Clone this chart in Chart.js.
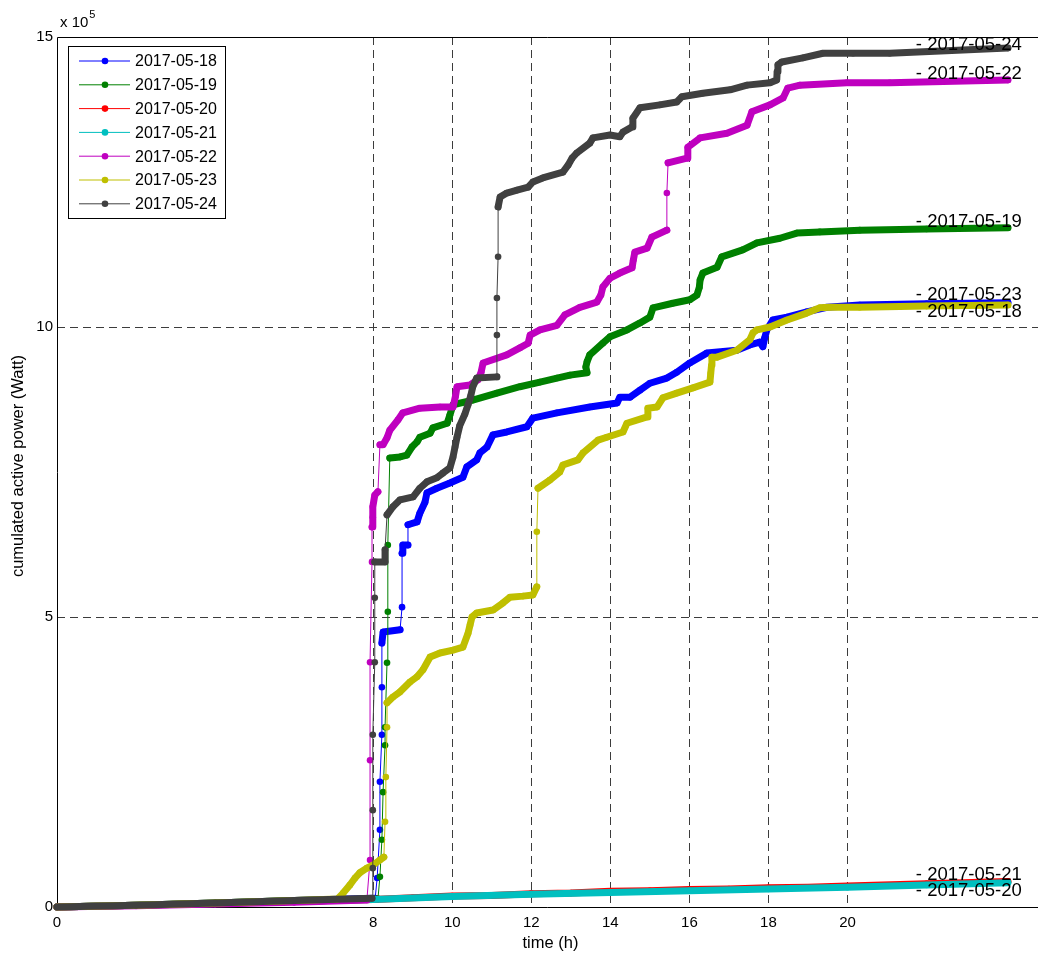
<!DOCTYPE html>
<html>
<head>
<meta charset="utf-8">
<title>cumulated active power</title>
<script src="https://cdn.jsdelivr.net/npm/chart.js@4.4.1/dist/chart.umd.min.js"></script>
<style>
  html, body { margin: 0; padding: 0; background: #fff; }
  canvas { display: block; }
</style>
</head>
<body>
<canvas id="chart" width="1038" height="953"></canvas>
<script>
// one trace per day, legend order
const days = ['2017-05-18', '2017-05-19', '2017-05-20', '2017-05-21', '2017-05-22', '2017-05-23', '2017-05-24'];
const colors = ['#0000ff', '#008000', '#ff0000', '#00bfbf', '#bf00bf', '#bfbf00', '#404040'];

// [time (h), cumulated active power (x 10^5 W)]
const s18 = [[0,0],[2,0.03],[4,0.07],[6,0.11],[8.05,0.15],
  [8.10,0.50],[8.17,1.33],[8.17,2.16],[8.22,2.97],[8.22,3.79],[8.22,4.55],[8.25,4.74],[8.68,4.78],
  [8.73,5.17],[8.73,6.10],[8.75,6.24],[8.88,6.24],[8.88,6.59],
  [9.11,6.64],[9.18,6.79],[9.31,6.98],[9.36,7.14],[9.61,7.22],[9.94,7.31],[10.27,7.41],[10.37,7.59],
  [10.62,7.71],[10.70,7.83],[10.88,7.93],[11.03,8.14],[11.38,8.19],[11.89,8.28],[12.04,8.43],[12.65,8.52],
  [13.48,8.62],[14.17,8.69],[14.24,8.79],[14.50,8.79],[14.75,8.91],[15.00,9.03],[15.43,9.12],[15.68,9.22],
  [16.01,9.38],[16.44,9.55],[17.20,9.60],[17.53,9.69],[17.78,9.74],[17.86,9.66],[17.90,9.80],[17.96,9.95],
  [18.11,10.12],[18.47,10.17],[18.97,10.26],[19.48,10.34],[20.31,10.38],[22,10.40],[24.06,10.42]];

const s19 = [[0,0],[2,0.03],[4,0.07],[6,0.11],[8.12,0.14],
  [8.17,0.52],[8.22,1.16],[8.25,1.98],[8.30,2.79],[8.30,3.10],[8.35,4.21],[8.37,5.09],[8.37,6.24],[8.42,7.74],
  [8.68,7.76],[8.85,7.79],[8.98,7.93],[9.11,8.02],[9.18,8.10],[9.44,8.17],[9.51,8.26],[9.87,8.34],[9.94,8.48],
  [10.02,8.66],[10.52,8.74],[11.13,8.86],[11.71,8.97],[12.22,9.05],[12.65,9.12],[12.98,9.17],[13.41,9.21],
  [13.38,9.31],[13.41,9.40],[13.48,9.52],[13.81,9.72],[13.99,9.83],[14.42,9.95],[14.75,10.07],[15.00,10.17],
  [15.08,10.33],[15.58,10.41],[16.01,10.47],[16.19,10.55],[16.25,10.68],[16.27,10.81],[16.34,10.93],
  [16.70,11.03],[16.82,11.21],[17.35,11.33],[17.71,11.45],[18.29,11.53],[18.72,11.62],[19.30,11.64],
  [20.31,11.67],[22,11.69],[24.06,11.71]];

const s20 = [[0,0],[2,0.03],[4,0.06],[6,0.10],[8,0.13],[9,0.16],[10,0.19],[11,0.20],[12,0.23],[13,0.24],
  [14,0.27],[15,0.28],[16,0.30],[17,0.31],[18,0.33],[19,0.34],[20,0.36],[22,0.40],[24.06,0.44]];

const s21 = [[0,0],[2,0.03],[4,0.06],[6,0.10],[8,0.13],[10,0.18],[12,0.22],[14,0.25],[16,0.28],
  [18,0.31],[20,0.34],[22,0.38],[24.06,0.42]];

const s22 = [[0,0],[2,0.02],[4,0.05],[6,0.08],[7.84,0.12],
  [7.92,0.81],[7.92,2.53],[7.92,4.22],[7.97,5.95],[7.97,6.55],[7.99,6.72],[7.99,6.90],[8.04,7.10],[8.12,7.16],
  [8.17,7.97],[8.25,7.97],
  [8.35,8.09],[8.42,8.22],[8.63,8.40],[8.75,8.52],[9.18,8.60],[9.69,8.62],[10.02,8.62],[10.08,8.80],[10.12,8.97],
  [10.45,9.00],[10.65,9.09],[10.73,9.22],[10.78,9.38],[11.38,9.52],[11.71,9.64],[11.92,9.72],[11.97,9.86],
  [12.22,9.95],[12.65,10.03],[12.85,10.21],[13.23,10.34],[13.66,10.43],[13.76,10.55],[13.81,10.69],[13.99,10.84],
  [14.24,10.93],[14.55,11.02],[14.58,11.15],[14.62,11.29],[14.93,11.36],[15.05,11.55],[15.43,11.67],
  [15.43,12.31],[15.46,12.83],
  [15.94,12.91],[15.96,13.10],[16.27,13.26],[16.95,13.34],[17.46,13.48],[17.58,13.71],[18.04,13.83],
  [18.37,13.95],[18.49,14.12],[18.80,14.17],[19.98,14.21],[21.07,14.21],[24.06,14.26]];

const s23 = [[0,0],[2,0.03],[4,0.07],[6,0.11],[7.1,0.14],[7.24,0.24],[7.41,0.38],[7.54,0.50],[7.66,0.59],
  [7.84,0.67],[7.99,0.72],[8.17,0.81],[8.27,0.86],
  [8.30,1.47],[8.32,2.24],[8.35,3.10],[8.35,3.52],[8.50,3.62],[8.68,3.71],[8.93,3.88],[9.11,3.97],[9.26,4.09],
  [9.44,4.31],[9.69,4.38],[10.02,4.43],[10.27,4.48],[10.40,4.72],[10.45,4.86],[10.50,5.00],[10.62,5.07],
  [11.03,5.12],[11.28,5.24],[11.46,5.34],[11.79,5.36],[12.04,5.38],
  [12.14,5.52],[12.14,6.47],[12.17,7.22],
  [12.47,7.36],[12.72,7.50],[12.80,7.62],[13.18,7.71],[13.31,7.83],[13.69,8.05],[13.91,8.10],[14.32,8.19],
  [14.42,8.34],[14.93,8.45],[14.95,8.60],[15.18,8.62],[15.33,8.78],[15.68,8.86],[16.09,8.95],[16.52,9.05],
  [16.54,9.20],[16.56,9.34],[16.57,9.48],[16.70,9.48],[17.20,9.60],[17.53,9.78],[17.61,9.90],[17.71,9.95],
  [18.04,10.00],[18.47,10.12],[18.97,10.24],[19.30,10.33],[19.55,10.34],[20.31,10.34],[22,10.36],[24.06,10.38]];

const s24 = [[0,0],[2,0.03],[4,0.07],[6,0.11],[7.97,0.15],
  [7.99,0.67],[7.99,1.67],[7.99,2.97],[8.04,4.22],[8.04,5.33],[8.04,5.95],[8.30,5.95],[8.30,6.16],[8.35,6.76],
  [8.50,6.90],[8.68,7.02],[9.01,7.07],[9.18,7.22],[9.36,7.33],[9.61,7.40],[9.76,7.48],[9.94,7.57],[10.02,7.76],
  [10.07,7.93],[10.12,8.10],[10.19,8.30],[10.32,8.50],[10.40,8.66],[10.47,8.82],[10.52,8.97],[10.62,9.12],
  [11.13,9.14],
  [11.13,9.86],[11.13,10.50],[11.16,11.21],[11.16,12.07],[11.21,12.24],
  [11.38,12.31],[11.64,12.36],[11.92,12.41],[12.04,12.50],[12.29,12.57],[12.80,12.67],[12.93,12.79],[13.03,12.91],
  [13.15,13.00],[13.48,13.17],[13.56,13.26],[13.99,13.31],[14.24,13.28],[14.32,13.36],[14.55,13.45],[14.57,13.60],
  [14.75,13.78],[15.25,13.83],[15.68,13.88],[15.81,13.97],[16.34,14.03],[17.03,14.09],[17.46,14.17],[18.04,14.21],
  [18.21,14.26],[18.22,14.40],[18.24,14.52],[18.34,14.57],[18.87,14.64],[19.38,14.72],[20.14,14.72],[21.07,14.72],
  [24.06,14.81]];

const series = [s18, s19, s20, s21, s22, s23, s24];

const xTicks = [0, 8, 10, 12, 14, 16, 18, 20];
const yTicks = [0, 5, 10, 15];

// anchor of the "- yyyy-mm-dd" tags at the right (h, x 10^5 W)
const tagX = 21.73;
const tagY = [10.26, 11.81, 0.28, 0.55, 14.36, 10.55, 14.86];

const FONT = '"Liberation Sans", Arial, Helvetica, sans-serif';

// long near-vertical steps are sparse samples: thin line, dense runs look like a thick band
function segWidth(c) {
    const dy = Math.abs(c.p1.y - c.p0.y);
    const dx = Math.abs(c.p1.x - c.p0.x);
    return (dy > 16 && dx < 6) ? 1 : 7;
}

const datasets = series.map((s, i) => ({
    label: days[i],
    data: s.map(p => ({x: p[0], y: p[1]})),
    borderColor: colors[i],
    backgroundColor: colors[i],
    pointBackgroundColor: colors[i],
    pointBorderWidth: 0,
    pointRadius: 3.3,
    borderWidth: 7,
    borderCapStyle: 'round',
    borderJoinStyle: 'round',
    tension: 0,
    clip: false,
    order: series.length - 1 - i,   // later days on top
    segment: { borderWidth: segWidth }
}));

const frame = {
    id: 'frame',
    beforeDatasetsDraw(chart) {
        const {ctx, chartArea: a, scales: {x, y}} = chart;
        ctx.save();
        ctx.lineWidth = 1;
        ctx.strokeStyle = '#3c3c3c';
        ctx.setLineDash([8, 5]);
        xTicks.filter(v => v > 0).forEach(v => {
            const px = Math.round(x.getPixelForValue(v)) + 0.5;
            ctx.beginPath();
            ctx.moveTo(px, a.top);
            ctx.lineTo(px, a.bottom);
            ctx.stroke();
        });
        yTicks.filter(v => v > 0 && v < 15).forEach(v => {
            const py = Math.round(y.getPixelForValue(v)) + 0.5;
            ctx.beginPath();
            ctx.moveTo(a.left, py);
            ctx.lineTo(a.right, py);
            ctx.stroke();
        });
        // axes box (right side falls outside the canvas)
        ctx.setLineDash([]);
        ctx.strokeStyle = '#000';
        ctx.beginPath();
        ctx.moveTo(a.right, a.top + 0.5);
        ctx.lineTo(a.left + 0.5, a.top + 0.5);
        ctx.lineTo(a.left + 0.5, a.bottom + 0.5);
        ctx.lineTo(a.right, a.bottom + 0.5);
        ctx.stroke();
        ctx.restore();
    },
    afterDraw(chart) {
        const {ctx, chartArea: a, scales: {x, y}} = chart;
        ctx.save();
        ctx.fillStyle = '#000';

        // axis titles
        ctx.font = '16.5px ' + FONT;
        ctx.textAlign = 'center';
        ctx.textBaseline = 'middle';
        ctx.fillText('time (h)', (a.left + a.right) / 2 + 3, 943);
        ctx.save();
        ctx.translate(18, (a.top + a.bottom) / 2 - 6);
        ctx.rotate(-Math.PI / 2);
        ctx.fillText('cumulated active power (Watt)', 0, 0);
        ctx.restore();

        // exponent above the y axis
        ctx.textAlign = 'left';
        ctx.font = '15px ' + FONT;
        ctx.fillText('x 10', 60, 23);
        const w = ctx.measureText('x 10').width;
        ctx.font = '11px ' + FONT;
        ctx.fillText('5', 60 + w + 1, 15);

        // day tags next to the line ends
        ctx.font = '18.5px ' + FONT;
        days.forEach((d, i) => {
            ctx.fillText('- ' + d, x.getPixelForValue(tagX), y.getPixelForValue(tagY[i]));
        });

        // legend box
        const bx = 68.5, by = 46.5, bw = 157, bh = 172;
        ctx.fillStyle = '#fff';
        ctx.fillRect(bx, by, bw, bh);
        ctx.strokeStyle = '#000';
        ctx.lineWidth = 1;
        ctx.strokeRect(bx, by, bw, bh);
        ctx.font = '16px ' + FONT;
        days.forEach((d, i) => {
            const ry = 61 + i * 23.8;
            ctx.strokeStyle = colors[i];
            ctx.beginPath();
            ctx.moveTo(79, ry);
            ctx.lineTo(130, ry);
            ctx.stroke();
            ctx.fillStyle = colors[i];
            ctx.beginPath();
            ctx.arc(105, ry, 3.3, 0, Math.PI * 2);
            ctx.fill();
            ctx.fillStyle = '#000';
            ctx.fillText(d, 135, ry + 1);
        });
        ctx.restore();
    }
};

new Chart(document.getElementById('chart'), {
    type: 'line',
    data: { datasets: datasets },
    options: {
        responsive: false,
        animation: false,
        events: [],
        layout: { autoPadding: false, padding: { top: 37, left: 0, right: 0, bottom: 0 } },
        plugins: { legend: { display: false }, tooltip: { enabled: false } },
        scales: {
            x: {
                type: 'linear',
                min: 0,
                max: 24.82,
                afterBuildTicks: s => { s.ticks = xTicks.map(v => ({value: v})); },
                afterFit: s => { s.height = 46; },
                grid: { display: false, drawTicks: false },
                border: { display: false },
                ticks: { color: '#000', font: { family: FONT, size: 15 }, padding: 7, maxRotation: 0, autoSkip: false }
            },
            y: {
                min: 0,
                max: 15,
                afterBuildTicks: s => { s.ticks = yTicks.map(v => ({value: v})); },
                afterFit: s => { s.width = 57; },
                grid: { display: false, drawTicks: false },
                border: { display: false },
                ticks: { color: '#000', font: { family: FONT, size: 15 }, padding: 4 }
            }
        }
    },
    plugins: [frame]
});
</script>
</body>
</html>
